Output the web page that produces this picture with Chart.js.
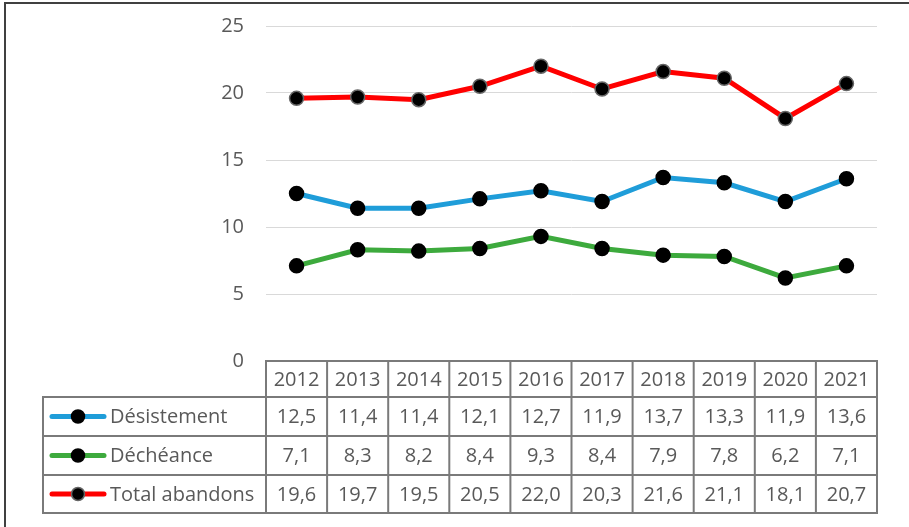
<!DOCTYPE html>
<html>
<head>
<meta charset="utf-8">
<script src="https://cdn.jsdelivr.net/npm/chart.js@4"></script>
<style>
    body { margin: 0; background: #fff; }
    canvas { display: block; }
</style>
</head>
<body>
<canvas id="abandonChart" width="909" height="527"></canvas>
<script>
// Chart data
const years = ['2012', '2013', '2014', '2015', '2016', '2017', '2018', '2019', '2020', '2021'];
const desistement = [12.5, 11.4, 11.4, 12.1, 12.7, 11.9, 13.7, 13.3, 11.9, 13.6];
const decheance = [7.1, 8.3, 8.2, 8.4, 9.3, 8.4, 7.9, 7.8, 6.2, 7.1];
const totalAbandons = [19.6, 19.7, 19.5, 20.5, 22.0, 20.3, 21.6, 21.1, 18.1, 20.7];
const yTicks = [0, 5, 10, 15, 20, 25];

const FONT = '"Open Sans", "Liberation Sans", sans-serif';
const TEXT_COLOR = '#595959';
const TABLE_LINE = '#7a7a7a';

function fmt(v) {
    return v.toFixed(1).replace('.', ',');
}

// Draws the outer frame and the data table under the plot
const dataTable = {
    id: 'dataTable',
    beforeDraw(chart) {
        const ctx = chart.ctx;
        ctx.save();
        ctx.strokeStyle = '#404040';
        ctx.lineWidth = 2;
        ctx.beginPath();
        ctx.moveTo(5, 527);
        ctx.lineTo(5, 3);
        ctx.lineTo(909, 3);
        ctx.stroke();
        ctx.restore();
    },
    afterDraw(chart) {
        const ctx = chart.ctx;
        const area = chart.chartArea;
        const xScale = chart.scales.x;
        const colW = (area.right - area.left) / years.length;
        const tableLeft = 43;
        const headTop = area.bottom;
        const headBottom = headTop + 36;
        const rowBottoms = [headBottom + 39, headBottom + 78, headBottom + 116];
        const series = chart.data.datasets;

        ctx.save();
        ctx.strokeStyle = TABLE_LINE;
        ctx.lineWidth = 2;

        // header row (years)
        ctx.strokeRect(area.left, headTop, area.right - area.left, headBottom - headTop);
        // series rows
        ctx.strokeRect(tableLeft, headBottom, area.right - tableLeft, rowBottoms[2] - headBottom);
        ctx.beginPath();
        rowBottoms.slice(0, 2).forEach(y => {
            ctx.moveTo(tableLeft, y);
            ctx.lineTo(area.right, y);
        });
        for (let i = 0; i < years.length; i++) {
            const x = area.left + i * colW;
            ctx.moveTo(x, headTop);
            ctx.lineTo(x, rowBottoms[2]);
        }
        ctx.stroke();

        ctx.fillStyle = TEXT_COLOR;
        ctx.font = '20px ' + FONT;
        ctx.textAlign = 'center';
        ctx.textBaseline = 'middle';
        years.forEach((yr, i) => {
            ctx.fillText(yr, xScale.getPixelForValue(i), (headTop + headBottom) / 2 + 1);
        });

        const rowTops = [headBottom, rowBottoms[0], rowBottoms[1]];
        series.forEach((ds, r) => {
            const cy = (rowTops[r] + rowBottoms[r]) / 2 + 1;
            ds.data.forEach((v, i) => {
                ctx.fillStyle = TEXT_COLOR;
                ctx.textAlign = 'center';
                ctx.fillText(fmt(v), xScale.getPixelForValue(i), cy);
            });

            // legend key
            ctx.strokeStyle = ds.borderColor;
            ctx.lineWidth = 5;
            ctx.lineCap = 'round';
            ctx.beginPath();
            ctx.moveTo(52, cy - 1);
            ctx.lineTo(104, cy - 1);
            ctx.stroke();
            ctx.beginPath();
            ctx.arc(78, cy - 1, 6.5, 0, Math.PI * 2);
            ctx.fillStyle = '#000';
            ctx.fill();
            ctx.lineWidth = 1.5;
            ctx.strokeStyle = ds.pointBorderColor;
            ctx.stroke();

            ctx.fillStyle = TEXT_COLOR;
            ctx.textAlign = 'left';
            ctx.fillText(ds.label, 110, cy);
        });
        ctx.restore();
    }
};

function lineSet(label, data, color, pointBorder) {
    return {
        label: label,
        data: data,
        borderColor: color,
        backgroundColor: color,
        borderWidth: 5,
        pointRadius: 7,
        pointHoverRadius: 7,
        pointBackgroundColor: '#000',
        pointBorderColor: pointBorder,
        pointBorderWidth: 1.5,
        tension: 0,
        fill: false
    };
}

const ctx = document.getElementById('abandonChart');
new Chart(ctx, {
    type: 'line',
    data: {
        labels: years,
        datasets: [
            lineSet('Désistement', desistement, '#1f9dd9', '#000'),
            lineSet('Déchéance', decheance, '#3daa3d', '#000'),
            lineSet('Total abandons', totalAbandons, '#ff0000', '#666')
        ]
    },
    options: {
        responsive: false,
        animation: false,
        devicePixelRatio: 1,
        layout: {
            padding: { top: 26, right: 32, bottom: 166, left: 0 }
        },
        plugins: {
            legend: { display: false },
            tooltip: { enabled: false }
        },
        scales: {
            x: {
                display: false,
                offset: true
            },
            y: {
                min: 0,
                max: 25,
                afterFit(scale) {
                    scale.width = 266;
                    // let the layout padding alone decide where the plot starts
                    scale.paddingTop = 0;
                    scale.paddingBottom = 0;
                },
                afterBuildTicks(scale) {
                    scale.ticks = yTicks.map(v => ({ value: v }));
                },
                border: { display: false },
                grid: {
                    color: ctx => ctx.tick.value === 0 ? 'rgba(0,0,0,0)' : '#d9d9d9',
                    lineWidth: 1,
                    drawTicks: false
                },
                ticks: {
                    padding: 22,
                    color: TEXT_COLOR,
                    font: { family: FONT, size: 20 }
                }
            }
        }
    },
    plugins: [dataTable]
});
</script>
</body>
</html>
